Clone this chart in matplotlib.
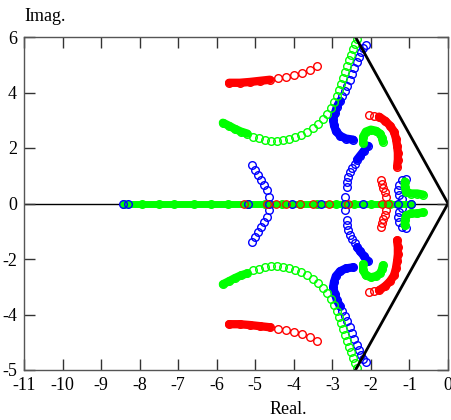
import numpy as np
import matplotlib
matplotlib.use("Agg")
import matplotlib.pyplot as plt

# root locus branches in the upper half plane, (real, imag)
# the lower half is the complex-conjugate mirror
red_outer = [(-5.68, 4.35), (-5.40, 4.35), (-5.14, 4.38), (-4.88, 4.42), (-4.62, 4.46),
             (-4.41, 4.53), (-4.20, 4.56), (-3.99, 4.63), (-3.79, 4.71), (-3.58, 4.81),
             (-3.40, 4.96)]
green_outer = [(-5.84, 2.91), (-5.68, 2.80), (-5.53, 2.69), (-5.37, 2.59), (-5.21, 2.52),
               (-5.06, 2.41), (-4.90, 2.37), (-4.75, 2.30), (-4.59, 2.26), (-4.44, 2.26),
               (-4.28, 2.30), (-4.12, 2.34), (-3.97, 2.41), (-3.81, 2.48), (-3.66, 2.59),
               (-3.50, 2.73), (-3.37, 2.87), (-3.24, 3.05), (-3.14, 3.23), (-3.03, 3.45),
               (-2.96, 3.66), (-2.88, 3.88), (-2.83, 4.10), (-2.78, 4.31), (-2.72, 4.53),
               (-2.67, 4.74), (-2.62, 4.96), (-2.57, 5.17), (-2.52, 5.35), (-2.46, 5.57),
               (-2.41, 5.75), (-2.36, 5.93)]
blue_outer = [(-2.46, 2.30), (-2.65, 2.34), (-2.80, 2.44), (-2.91, 2.62), (-2.96, 2.84),
              (-2.98, 3.02), (-2.93, 3.27), (-2.88, 3.49), (-2.80, 3.70), (-2.75, 3.88),
              (-2.67, 4.06), (-2.62, 4.24), (-2.54, 4.46), (-2.49, 4.67), (-2.44, 4.89),
              (-2.36, 5.10), (-2.31, 5.28), (-2.26, 5.46), (-2.20, 5.61), (-2.13, 5.71)]
blue_inner = [(-2.08, 2.08), (-2.18, 1.90), (-2.28, 1.72), (-2.36, 1.58), (-2.41, 1.44),
              (-2.49, 1.29), (-2.54, 1.15), (-2.59, 0.97), (-2.62, 0.79), (-2.62, 0.61),
              (-2.67, 0.22)]
green_hook = [(-2.20, 2.19), (-2.20, 2.41), (-2.13, 2.59), (-2.00, 2.66), (-1.87, 2.62),
              (-1.76, 2.52), (-1.71, 2.37), (-1.69, 2.23)]
red_arc = [(-1.32, 1.33), (-1.30, 1.58), (-1.30, 1.83), (-1.32, 2.08), (-1.35, 2.34),
           (-1.40, 2.59), (-1.50, 2.80), (-1.63, 2.98), (-1.79, 3.13), (-1.92, 3.16),
           (-2.05, 3.20)]
red_small = [(-1.74, 0.86), (-1.71, 0.72), (-1.69, 0.57), (-1.63, 0.43), (-1.61, 0.25)]
blue_small = [(-1.09, 0.90), (-1.19, 0.83), (-1.27, 0.68), (-1.30, 0.50), (-1.27, 0.32),
              (-1.19, 0.18)]
green_small = [(-1.12, 0.79), (-1.12, 0.61), (-1.09, 0.43), (-0.96, 0.36), (-0.80, 0.36),
               (-0.65, 0.32)]
blue_left = [(-5.08, 1.40), (-5.01, 1.22), (-4.93, 1.04), (-4.85, 0.86), (-4.77, 0.68),
             (-4.70, 0.47), (-4.64, 0.25)]

# poles sitting on the real axis
real_green = [-8.40, -7.95, -7.50, -7.10, -6.60, -6.15, -5.70, -5.20, -4.75, -4.30,
              -3.85, -3.40, -2.90, -2.45, -2.00, -1.50, -0.95]
real_blue = [-8.43, -8.30, -5.20, -4.65, -4.05, -3.30, -2.68, -2.20, -1.30, -0.95]
real_red = [-5.30, -4.70, -4.45, -4.20, -3.85, -3.50, -3.10, -2.60, -1.70, -1.55]

# damping ratio boundary
zeta_tip = (-2.4, 6.0)

xticks = [-11, -10, -9, -8, -7, -6, -5, -4, -3, -2, -1, 0]
yticks = [-6, -4, -2, 0, 2, 4, 6]
ytick_labels = ["-5", "-4", "-2", "0", "2", "4", "6"]

RED, GREEN, BLUE = "#ff0000", "#00ff00", "#0000ff"

plt.rcParams["font.family"] = "Liberation Serif"
plt.rcParams["font.size"] = 13
plt.rcParams["axes.unicode_minus"] = False

fig = plt.figure(figsize=(4.51, 4.20), dpi=100)
ax = fig.add_axes([24 / 451, 50 / 420, 424 / 451, 333 / 420])


def branch(pts, color, n_solid):
    p = np.array(pts)
    for s in (1, -1):
        x, y = p[:, 0], s * p[:, 1]
        if n_solid > 1:
            ax.plot(x[:n_solid], y[:n_solid], "-", color=color, lw=6,
                    solid_capstyle="round")
        ax.plot(x, y, "o", mfc="none", mec=color, ms=5.5, mew=1)


ax.axhline(0, color="black", lw=1, zorder=1)

branch(blue_left, BLUE, 0)
branch(blue_inner, BLUE, 4)
branch(blue_outer, BLUE, 9)
branch(blue_small, BLUE, 0)
branch(green_outer, GREEN, 5)
branch(green_hook, GREEN, 8)
branch(green_small, GREEN, 6)
branch(red_outer, RED, 5)
branch(red_arc, RED, 9)
branch(red_small, RED, 0)

ax.plot([min(real_green), max(real_green)], [0, 0], "-", color=GREEN, lw=5)
ax.plot(real_green, np.zeros(len(real_green)), "o", mfc="none", mec=GREEN, ms=5.5, mew=1)
ax.plot(real_blue, np.zeros(len(real_blue)), "o", mfc="none", mec=BLUE, ms=5.5, mew=1)
ax.plot(real_red, np.zeros(len(real_red)), "o", mfc="none", mec=RED, ms=5.5, mew=0.8)

ax.plot([zeta_tip[0], 0, zeta_tip[0]], [zeta_tip[1], 0, -zeta_tip[1]],
        color="black", lw=2, clip_on=True)

ax.set_xlim(-11, 0)
ax.set_ylim(-6, 6)
ax.set_xticks(xticks)
ax.set_yticks(yticks)
ax.set_yticklabels(ytick_labels)
ax.tick_params(direction="in", length=8, width=1, color="#333333",
               top=True, right=True, pad=5)
for sp in ax.spines.values():
    sp.set_color("#555555")
    sp.set_linewidth(1)

fig.text(24 / 451, 399 / 420, "Imag.", ha="left", va="baseline")
fig.text(288 / 451, 6 / 420, "Real.", ha="center", va="baseline")

fig.savefig("out.png", dpi=100)
